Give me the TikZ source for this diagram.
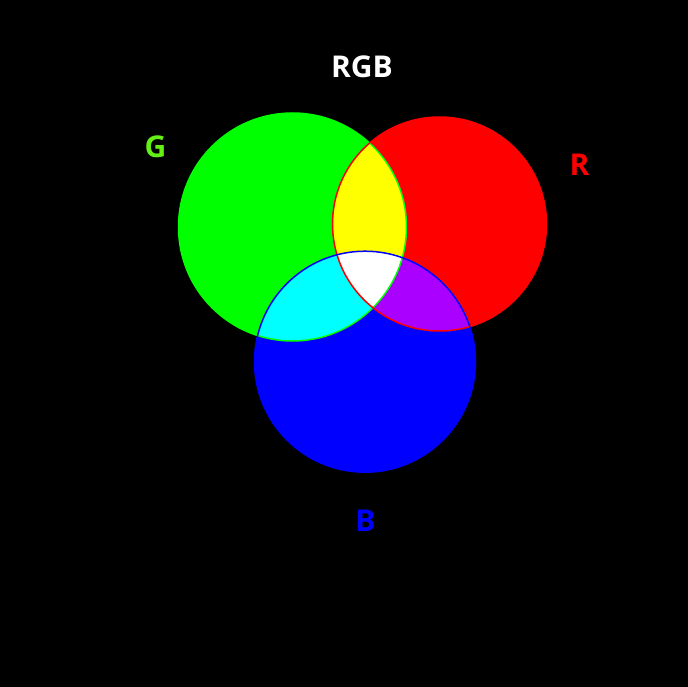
\documentclass[tikz,border=0pt]{standalone}
\usepackage{fontspec}
\setmainfont{Open Sans}
\usepackage{xcolor}

\definecolor{labelgreen}{RGB}{100,240,20}
\definecolor{mixpurple}{RGB}{170,0,255}
\definecolor{mixcyan}{RGB}{0,255,255}
\definecolor{mixyellow}{RGB}{255,255,0}
\definecolor{pureG}{RGB}{0,255,0}
\definecolor{pureR}{RGB}{255,0,0}
\definecolor{pureB}{RGB}{0,0,255}

\tikzset{
  lbl/.style={font=\fontsize{30}{35}\selectfont\bfseries},
  rim/.style={line width=1.5pt},
}

\begin{document}
\begin{tikzpicture}[x=1pt, y=-1pt]
  \fill[black] (0,0) rectangle (688,687);
  \def\circG{(292.5,227) circle[radius=114pt]}
  \def\circR{(439.5,224) circle[radius=107pt]}
  \def\circB{(365,361.7) circle[radius=110.5pt]}
  % primaries
  \fill[pureG] \circG;
  \fill[pureR] \circR;
  \fill[pureB] \circB;
  % overlaps
  \begin{scope}
    \clip \circG;
    \fill[mixyellow] \circR;
    \fill[mixcyan]   \circB;
  \end{scope}
  \begin{scope}
    \clip \circR;
    \fill[mixpurple] \circB;
  \end{scope}
  \begin{scope}
    \clip \circG;
    \clip \circR;
    \fill[white] \circB;
  \end{scope}
  % outlines
  \draw[rim, pureG] \circG;
  \draw[rim, pureR] \circR;
  \draw[rim, pureB] \circB;
  % labels
  \node[lbl, white]      (title) at (362,67)    {RGB};
  \node[lbl, labelgreen] (lblG)  at (155.5,147) {G};
  \node[lbl, pureR]      (lblR)  at (579.5,165) {R};
  \node[lbl, pureB]      (lblB)  at (365.5,521) {B};
\end{tikzpicture}
\end{document}
